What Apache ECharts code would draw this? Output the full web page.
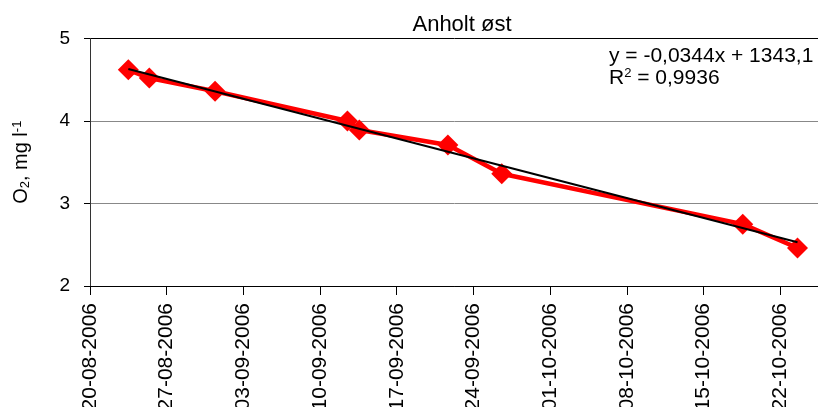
<!DOCTYPE html>
<html>
<head>
<meta charset="utf-8">
<script src="https://cdn.jsdelivr.net/npm/echarts@6/dist/echarts.min.js"></script>
<style>
  html, body { margin: 0; padding: 0; background: #fff; }
  #chart { width: 818px; height: 407px; }
</style>
</head>
<body>
<div id="chart"></div>
<script>
// sample dates (UTC) and oxygen values
const sampleDates = [
  '2006-08-23T12:00', '2006-08-25T10:00', '2006-08-31T10:00',
  '2006-09-12T12:00', '2006-09-13T14:00', '2006-09-21T16:00',
  '2006-09-26T14:00', '2006-10-18T14:00', '2006-10-23T14:00'
]
const o2Values = [4.62, 4.52, 4.36, 4.00, 3.89, 3.71, 3.36, 2.75, 2.46]
// linear trend end points (first and last sample)
const trendValues = [4.63, 2.53]
const startDate = '2006-08-20T00:00'
const endDate = '2006-10-26T00:00'
const yTicks = [2, 3, 4, 5]

const DAY = 86400000
const toMs = s => new Date(s + ':00Z').getTime()
const base = toMs(startDate)
const dayOf = s => (toMs(s) - base) / DAY
const pad = n => (n < 10 ? '0' : '') + n
const fmtDay = v => {
  const d = new Date(base + v * DAY)
  return pad(d.getUTCDate()) + '-' + pad(d.getUTCMonth() + 1) + '-' + d.getUTCFullYear()
}

const seriesData = sampleDates.map((d, i) => [dayOf(d), o2Values[i]])
const trendData = [
  [dayOf(sampleDates[0]), trendValues[0]],
  [dayOf(sampleDates[sampleDates.length - 1]), trendValues[1]]
]

const font = 'Liberation Sans, Arial, sans-serif'
const myChart = echarts.init(document.getElementById('chart'))

myChart.setOption({
  animation: false,
  textStyle: { fontFamily: font, color: '#000' },
  title: {
    text: 'Anholt øst',
    left: 457,
    textAlign: 'center',
    top: 9,
    textStyle: { fontFamily: font, fontSize: 22, fontWeight: 'normal', color: '#000' }
  },
  grid: { left: 90, top: 38.5, height: 247.5, width: 734, outerBoundsMode: 'none', containLabel: false },
  xAxis: {
    type: 'value',
    min: 0,
    max: dayOf(endDate),
    interval: 7,
    axisLine: { lineStyle: { color: '#000', width: 1 } },
    axisTick: { length: 9, lineStyle: { color: '#000' } },
    splitLine: { show: false },
    axisLabel: {
      rotate: 90,
      margin: 17,
      fontSize: 21,
      fontFamily: font,
      color: '#000',
      showMaxLabel: false,
      formatter: v => (v % 7 === 0 ? fmtDay(v) : '')
    }
  },
  yAxis: {
    type: 'value',
    min: yTicks[0],
    max: yTicks[yTicks.length - 1],
    interval: 1,
    name: '{a|O}{sub|2}{a|, mg l}{sup|-1}',
    nameLocation: 'middle',
    nameGap: 58,
    nameTextStyle: {
      rich: {
        a: { fontSize: 20, fontFamily: font, color: '#000' },
        sub: { fontSize: 13, fontFamily: font, color: '#000', verticalAlign: 'bottom', padding: [8, 0, 0, 0] },
        sup: { fontSize: 13, fontFamily: font, color: '#000', verticalAlign: 'top', padding: [0, 0, 8, 0] }
      }
    },
    axisLine: { show: true, lineStyle: { color: '#333', width: 1 } },
    axisTick: { show: true, length: 6, lineStyle: { color: '#000' } },
    axisLabel: { margin: 20, fontSize: 19, fontFamily: font, color: '#000' },
    splitLine: { lineStyle: { color: ['#000', '#888', '#888', '#000'], width: 1 } }
  },
  graphic: [
    {
      type: 'text',
      left: 609,
      top: 46,
      style: { text: 'y = -0,0344x + 1343,1', font: '21px ' + font, fill: '#000' }
    },
    {
      type: 'text',
      left: 609,
      top: 67,
      style: {
        text: '{a|R}{sup|2}{a| = 0,9936}',
        rich: {
          a: { fontSize: 21, fontFamily: font, fill: '#000' },
          sup: { fontSize: 13, fontFamily: font, fill: '#000', verticalAlign: 'top', padding: [0, 0, 9, 0] }
        }
      }
    }
  ],
  series: [
    {
      type: 'line',
      data: seriesData,
      symbol: 'diamond',
      symbolSize: 21,
      lineStyle: { color: '#ff0000', width: 4.5 },
      itemStyle: { color: '#ff0000' },
      z: 2
    },
    {
      type: 'line',
      data: trendData,
      symbol: 'none',
      lineStyle: { color: '#000', width: 2 },
      z: 3
    }
  ]
})
window.addEventListener('resize', () => myChart.resize())
</script>
</body>
</html>
